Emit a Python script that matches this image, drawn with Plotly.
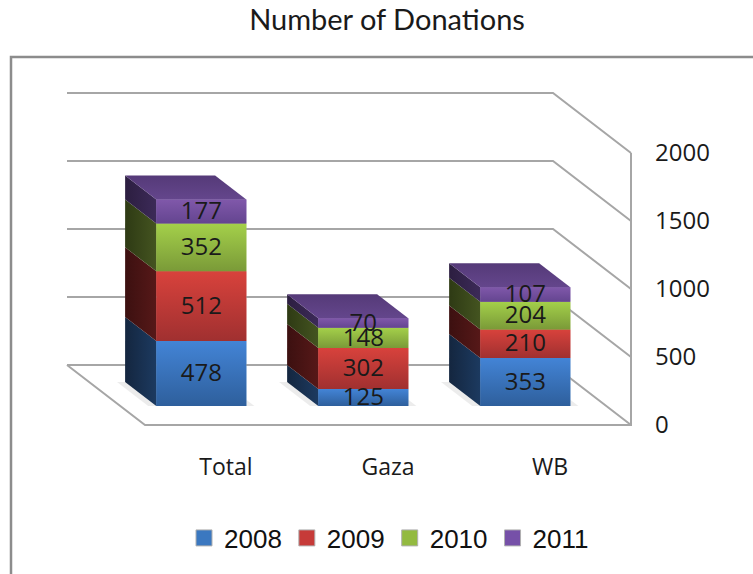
import plotly.graph_objects as go

# ---- chart data ----
categories = ["Total", "Gaza", "WB"]
years = ["2008", "2009", "2010", "2011"]
values_2008 = [478, 125, 353]
values_2009 = [512, 302, 210]
values_2010 = [352, 148, 204]
values_2011 = [177, 70, 107]
value_ticks = [0, 500, 1000, 1500, 2000]

series = [values_2008, values_2009, values_2010, values_2011]

# ---- styling ----
legend_colors = ["#3b78c0", "#c63a38", "#93ba40", "#7650a8"]
front_top = ["#4384d6", "#d8423c", "#a4d04a", "#8058aa"]
front_bottom = ["#2e5f9c", "#a03030", "#7a9a38", "#644590"]
side_light = ["#1c3a60", "#561818", "#445420", "#3c2a58"]
side_dark = ["#14263f", "#3c1010", "#2e3a14", "#2c1e40"]
top_back = "#553a78"
top_front = "#64468c"
grid_color = "#a6a6a6"

# oblique projection of the 3-D box, in axis units
DEPTH_X = -78 / 162        # full floor depth, in category units
DEPTH_Y = 60 / 0.136       # full floor depth, in value units
BAR_FRONT = 19 / 60        # fractional depth of the bar's front
BAR_BACK = 43 / 60         # fractional depth of the bar's back
BAR_WIDTH = 90 / 162
LABEL_NUDGE = 12           # value units, centres digits optically on the face


def proj(x, y, d):
    return x + DEPTH_X * d, y + DEPTH_Y * d


def poly(points, c0, c1, kind="vertical"):
    xs = [p[0] for p in points] + [points[0][0]]
    ys = [p[1] for p in points] + [points[0][1]]
    return go.Scatter(
        x=xs, y=ys, mode="lines", fill="toself", line=dict(width=0),
        fillgradient=dict(type=kind, colorscale=[[0, c0], [1, c1]]),
        hoverinfo="skip", showlegend=False,
    )


fig = go.Figure()

# Front faces as bars (true data marks)
for k, (name, vals) in enumerate(zip(years, series)):
    bases = []
    for i in range(len(categories)):
        cum = sum(series[j][i] for j in range(k))
        bases.append(proj(0, cum, BAR_FRONT)[1])
    fig.add_trace(go.Bar(
        x=[proj(i, 0, BAR_FRONT)[0] for i in range(len(categories))],
        y=vals, base=bases, width=BAR_WIDTH,
        marker=dict(color=legend_colors[k], line=dict(width=0)),
        name=name, showlegend=False, hoverinfo="skip",
    ))

# Walls and floor
x_left, x_right = -0.5, 2.5
for t in value_ticks:
    bl = proj(x_left, t, 1)
    br = proj(x_right, t, 1)
    fr = proj(x_right, t, 0)
    fig.add_trace(go.Scatter(
        x=[bl[0], br[0], fr[0]], y=[bl[1], br[1], fr[1]], mode="lines",
        line=dict(color=grid_color, width=2), hoverinfo="skip", showlegend=False,
    ))
fl = proj(x_left, 0, 0)
fr = proj(x_right, 0, 0)
bl = proj(x_left, 0, 1)
fr_top = proj(x_right, value_ticks[-1], 0)
fig.add_trace(go.Scatter(
    x=[bl[0], fl[0], fr[0], fr_top[0]], y=[bl[1], fl[1], fr[1], fr_top[1]], mode="lines",
    line=dict(color=grid_color, width=2), hoverinfo="skip", showlegend=False,
))

# Shadow and 3-D faces
for i in range(len(categories)):
    xl, xr = i - BAR_WIDTH / 2, i + BAR_WIDTH / 2
    pad = 0.05
    pts = [proj(xl - pad, 0, BAR_FRONT), proj(xr + pad, 0, BAR_FRONT),
           proj(xr + pad, 0, BAR_BACK), proj(xl - pad, 0, BAR_BACK)]
    fig.add_trace(go.Scatter(
        x=[p[0] for p in pts] + [pts[0][0]], y=[p[1] for p in pts] + [pts[0][1]],
        mode="lines", fill="toself", line=dict(width=0),
        fillcolor="rgba(120,120,120,0.14)", hoverinfo="skip", showlegend=False,
    ))

    cum = 0
    for k, vals in enumerate(series):
        lo, hi = cum, cum + vals[i]
        cum = hi
        # left side
        fig.add_trace(poly([
            proj(xl, lo, BAR_FRONT), proj(xl, hi, BAR_FRONT),
            proj(xl, hi, BAR_BACK), proj(xl, lo, BAR_BACK),
        ], side_dark[k], side_light[k], "horizontal"))
        # front
        fig.add_trace(poly([
            proj(xl, lo, BAR_FRONT), proj(xr, lo, BAR_FRONT),
            proj(xr, hi, BAR_FRONT), proj(xl, hi, BAR_FRONT),
        ], front_bottom[k], front_top[k], "vertical"))
    # top
    fig.add_trace(poly([
        proj(xl, cum, BAR_FRONT), proj(xr, cum, BAR_FRONT),
        proj(xr, cum, BAR_BACK), proj(xl, cum, BAR_BACK),
    ], top_front, top_back, "vertical"))

# Value labels on front faces
for k, vals in enumerate(series):
    xs, ys = [], []
    for i in range(len(categories)):
        cum = sum(series[j][i] for j in range(k))
        x, y = proj(i, cum + vals[i] / 2, BAR_FRONT)
        xs.append(x)
        ys.append(y - LABEL_NUDGE)
    fig.add_trace(go.Scatter(
        x=xs, y=ys, mode="text", text=[str(v) for v in vals], textposition="middle center",
        textfont=dict(family="Open Sans", size=24, color="#1a1a1a"),
        hoverinfo="skip", showlegend=False,
    ))

# Legend entries
for k, name in enumerate(years):
    fig.add_trace(go.Scatter(
        x=[None], y=[None], mode="markers", name=name,
        marker=dict(symbol="square", size=16, color=legend_colors[k],
                    line=dict(color="#b0b0b0", width=1)),
    ))

L, R, T, B = 12, 640, 60, 446
W, H = 753, 574


def px(v):
    return (v - L) / (R - L)


def py(v):
    return (B - v) / (B - T)


fig.update_layout(
    width=W, height=H, autosize=False,
    margin=dict(l=L, r=W - R, t=T, b=H - B, autoexpand=False),
    paper_bgcolor="white", plot_bgcolor="rgba(0,0,0,0)",
    barmode="overlay",
    title=dict(text="Number of Donations", x=387 / W, xanchor="center", y=1 - 20 / H, yanchor="middle",
               font=dict(family="Lato", size=29, color="#1a1a1a")),
    xaxis=dict(range=[(L - 226) / 162, (R - 226) / 162], tickmode="array",
               tickvals=list(range(len(categories))), ticktext=categories,
               showgrid=False, zeroline=False, showline=False, ticks="",
               ticklabelstandoff=5,
               tickfont=dict(family="Open Sans", size=23, color="#1a1a1a")),
    yaxis=dict(range=[(425 - B) / 0.136, (425 - T) / 0.136], tickmode="array",
               tickvals=value_ticks, ticktext=[str(v) for v in value_ticks],
               side="right", showgrid=False, zeroline=False, showline=False, ticks="",
               ticklabelstandoff=14,
               tickfont=dict(family="Open Sans", size=24, color="#1a1a1a")),
    legend=dict(orientation="h", x=px(389), xanchor="center", y=py(538), yanchor="middle",
                font=dict(family="Liberation Sans", size=26, color="#111111"),
                bgcolor="rgba(0,0,0,0)", itemclick=False, itemdoubleclick=False),
    shapes=[dict(type="path", xref="paper", yref="paper",
                 path=f"M {px(11)} {py(574)} L {px(11)} {py(57)} L {px(753)} {py(57)}",
                 line=dict(color="#8c8c8c", width=2.5), layer="below")],
)

fig.write_html("out.html", config={"displayModeBar": False},
               post_script="document.body.style.margin='0';")
